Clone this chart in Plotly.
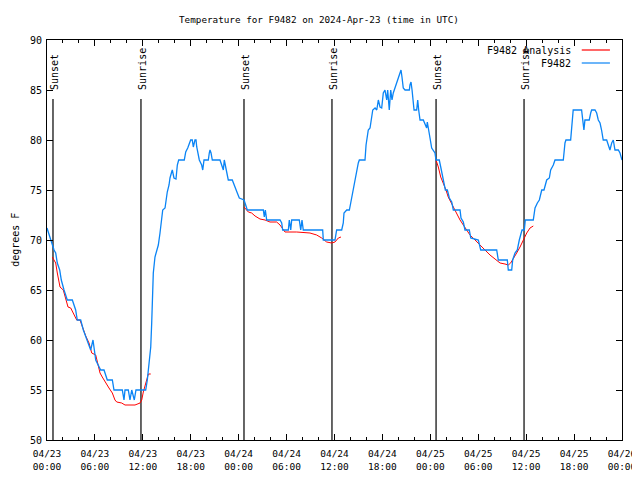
import pandas as pd
import plotly.graph_objects as go

# ---------------- data ----------------
START = pd.Timestamp("2024-04-23 00:00")

# observed temperature (hours since 2024-04-23 00:00 UTC, deg F)
obs_hours = [0.0, 0.46, 0.88, 1.09, 1.29, 1.59, 1.79, 2.13, 2.54, 3.17, 3.59, 3.79, 4.22, 4.55,
             5.05, 5.47, 5.76, 5.89, 6.10, 6.72, 7.14, 7.55, 8.18, 8.39, 9.43, 9.64, 9.77, 10.18,
             10.39, 10.61, 10.93, 11.14, 12.36, 12.56, 12.77, 12.99, 13.11, 13.19, 13.31, 13.52,
             13.74, 13.94, 14.15, 14.27, 14.36, 14.49, 14.78, 14.90, 15.06, 15.28, 15.40, 15.61,
             15.69, 15.90, 16.15, 16.32, 16.49, 17.19, 17.37, 17.62, 17.82, 17.99, 18.19, 18.32,
             18.53, 18.66, 18.75, 18.87, 19.07, 19.37, 19.50, 19.66, 20.20, 20.32, 20.41, 20.54,
             20.70, 21.66, 21.88, 22.08, 22.20, 22.38, 22.58, 22.70, 23.20, 23.42, 23.63, 23.83,
             24.08, 24.67, 24.88, 25.08, 27.09, 27.21, 27.34, 27.51, 29.18, 29.39, 29.51, 30.22,
             30.34, 30.52, 30.64, 31.59, 31.77, 31.93, 32.09, 34.52, 34.60, 36.06, 36.27, 36.90,
             37.10, 37.19, 37.53, 37.86, 38.03, 38.28, 38.44, 38.61, 38.78, 38.98, 39.11, 39.82,
             39.95, 40.11, 40.23, 40.45, 40.61, 40.79, 41.08, 41.29, 41.49, 41.70, 41.91, 42.11,
             42.32, 42.54, 42.66, 42.86, 43.04, 43.20, 43.36, 43.58, 43.79, 43.99, 44.20, 44.33,
             44.45, 44.61, 44.83, 45.37, 45.45, 45.58, 45.71, 45.79, 45.96, 46.29, 46.42, 46.54,
             46.71, 47.12, 47.33, 47.54, 47.62, 47.75, 47.96, 48.17, 48.37, 48.58, 48.71, 49.12,
             49.30, 49.55, 49.72, 49.88, 50.13, 50.38, 50.68, 50.88, 51.72, 51.84, 52.13, 52.34,
             52.88, 53.06, 54.01, 54.31, 56.31, 56.51, 57.64, 57.76, 58.19, 58.31, 58.60, 58.89,
             59.14, 59.32, 59.48, 59.77, 59.89, 60.89, 61.11, 61.40, 61.65, 61.95, 62.23, 62.57,
             62.90, 63.07, 63.40, 63.61, 64.65, 64.86, 64.98, 65.57, 65.69, 65.82, 65.89, 66.94,
             67.14, 67.23, 67.36, 67.90, 68.08, 68.20, 68.62, 68.83, 69.03, 69.25, 69.44, 69.65,
             70.08, 70.28, 70.49, 70.71, 70.91, 71.12, 71.54, 71.75, 71.88, 72.0]
obs_temps = [71.2, 70.0, 69.0, 68.7, 67.7, 67.0, 66.0, 65.0, 64.0, 64.0, 63.0, 62.0, 62.0, 61.0,
             60.0, 59.0, 60.0, 59.0, 58.0, 57.0, 57.0, 56.0, 56.0, 55.0, 55.0, 54.0, 55.0, 55.0,
             54.0, 55.0, 54.0, 55.0, 55.0, 56.0, 57.5, 59.3, 61.7, 64.3, 66.7, 68.3,
             69.0, 69.5, 70.7, 71.7, 72.5, 73.0, 73.2, 74.2, 74.8, 75.5, 76.2, 76.8,
             77.0, 76.2, 76.1, 77.5, 78.0, 78.0, 78.8, 79.2, 79.7, 80.0, 80.0, 79.3,
             80.0, 80.0, 79.3, 78.7, 78.0, 77.5, 77.0, 78.0, 78.0, 78.7, 79.0, 78.7,
             78.0, 78.0, 77.5, 77.0, 78.0, 77.3, 76.7, 76.0, 76.0, 75.5, 75.0, 74.7,
             74.2, 74.0, 73.5, 73.0, 73.0, 72.3, 73.0, 72.0, 72.0, 71.7, 71.0, 71.0,
             72.0, 71.0, 72.0, 72.0, 71.0, 72.0, 71.0, 71.0, 70.0, 70.0, 71.0, 71.0,
             71.7, 72.7, 73.0, 73.0, 73.7, 74.8, 75.7, 76.3, 77.0, 77.7, 78.0, 78.0,
             79.5, 80.3, 81.0, 81.2, 82.2, 83.0, 83.2, 83.0, 84.0, 83.3, 83.2, 84.7,
             85.0, 84.0, 85.0, 83.0, 85.0, 84.0, 84.7, 85.3, 85.8, 86.2, 86.7, 87.0,
             86.3, 85.2, 85.0, 85.0, 85.5, 85.8, 85.0, 84.0, 83.0, 83.0, 84.0, 83.0,
             82.0, 82.0, 81.5, 81.2, 81.8, 81.0, 80.2, 79.2, 79.0, 78.7, 78.0, 78.0,
             77.3, 76.3, 76.0, 75.0, 75.0, 74.2, 73.8, 73.0, 73.0, 72.2, 71.8, 71.0,
             71.0, 70.2, 70.0, 69.0, 69.0, 68.0, 68.0, 67.0, 67.0, 68.0, 68.7, 69.0,
             70.0, 70.5, 71.0, 71.0, 72.0, 72.0, 73.2, 73.7, 74.0, 75.0, 75.0, 76.0,
             76.2, 77.0, 77.5, 78.0, 78.0, 79.7, 80.0, 80.0, 81.0, 82.0, 83.0, 83.0,
             81.7, 81.0, 82.0, 82.0, 82.7, 83.0, 83.0, 82.7, 82.0, 81.7, 81.0, 80.0,
             80.0, 79.5, 79.0, 79.7, 80.0, 79.0, 79.0, 78.7, 78.3, 78.0]

# analysis curves (three night segments)
ana1_hours = [0.66, 1.09, 1.29, 1.50, 1.63, 2.04, 2.34, 2.63, 2.97, 3.38, 3.72, 4.13, 4.42, 4.85,
              5.26, 5.60, 6.10, 6.30, 6.64, 6.92, 7.35, 7.76, 8.18, 8.51, 8.73, 9.35, 9.77, 11.02,
              11.65, 11.86, 12.06, 12.27, 12.48, 12.69, 12.99]
ana1_temps = [68.3, 67.7, 66.7, 66.0, 65.3, 65.0, 64.0, 63.3, 63.2, 62.5, 62.0, 62.0, 61.3, 60.4,
              59.7, 58.7, 58.5, 57.7, 56.7, 56.3, 55.7, 55.2, 54.7, 54.0, 53.8, 53.7, 53.5, 53.5,
              53.7, 54.0, 54.8, 55.3, 56.0, 56.6, 56.6]
ana2_hours = [24.67, 25.21, 25.63, 26.05, 26.67, 27.30, 27.92, 28.76, 29.18, 29.59, 29.80, 31.27,
              32.93, 33.77, 34.40, 35.02, 35.65, 36.06, 36.48, 36.81]
ana2_temps = [73.3, 72.8, 72.7, 72.4, 72.1, 72.0, 71.8, 71.8, 71.5, 71.0, 70.8, 70.8,
              70.7, 70.5, 70.2, 69.8, 69.7, 69.8, 70.2, 70.3]
ana3_hours = [48.71, 49.00, 49.30, 49.62, 49.96, 50.24, 50.55, 50.88, 51.30, 51.72, 52.13, 52.55,
              52.97, 53.60, 54.22, 54.85, 55.47, 56.10, 56.73, 57.35, 57.76, 58.06, 58.39, 58.81,
              59.23, 59.65, 60.07, 60.48, 60.89]
ana3_temps = [78.0, 77.3, 76.3, 75.7, 75.0, 74.3, 73.8, 73.3, 72.7, 72.0, 71.5, 71.0,
              70.5, 70.0, 69.5, 69.0, 68.5, 68.1, 67.7, 67.6, 67.5, 67.7, 68.2, 68.7,
              69.3, 70.0, 70.7, 71.2, 71.4]

sun_times = ["2024-04-23 00:45", "2024-04-23 11:46", "2024-04-24 00:40",
             "2024-04-24 11:41", "2024-04-25 00:43", "2024-04-25 11:44"]
sun_labels = ["Sunset", "Sunrise", "Sunset", "Sunrise", "Sunset", "Sunrise"]

title_text = "Temperature for F9482 on 2024-Apr-23 (time in UTC)"
series_names = ["F9482 Analysis", "F9482"]
y_title = "degrees F"
Y_MIN, Y_MAX = 50, 90


def to_time(hours):
    return START + pd.to_timedelta(hours, unit="h")


# ---------------- figure ----------------
FONT = "DejaVu Sans Mono, Liberation Mono, monospace"
RED = "#ff0000"
BLUE = "#0a84f5"

fig = go.Figure()

ana_x, ana_y = [], []
for h, t in [(ana1_hours, ana1_temps), (ana2_hours, ana2_temps), (ana3_hours, ana3_temps)]:
    ana_x += list(to_time(h)) + [None]
    ana_y += list(t) + [None]

fig.add_trace(go.Scatter(x=ana_x, y=ana_y, mode="lines", name=series_names[0],
                         line=dict(color=RED, width=1), connectgaps=False))
fig.add_trace(go.Scatter(x=to_time(obs_hours), y=obs_temps, mode="lines", name=series_names[1],
                         line=dict(color=BLUE, width=1.3)))

# sunrise / sunset markers
for t, lab in zip(sun_times, sun_labels):
    fig.add_shape(type="line", xref="x", yref="y", x0=t, x1=t, y0=Y_MIN, y1=84.1,
                  line=dict(color="black", width=1.2), layer="below")
    fig.add_annotation(x=t, y=84.8, xref="x", yref="y", text=lab, textangle=-90,
                       showarrow=False, xanchor="center", yanchor="bottom", xshift=1,
                       font=dict(family=FONT, size=10, color="black"))

# legend drawn gnuplot-style (text left of the sample line)
leg_rows = [0.975, 0.9425]
for name, color, yp in zip(series_names, [RED, BLUE], leg_rows):
    fig.add_annotation(x=0.915, y=yp, xref="paper", yref="paper", text=name, showarrow=False,
                       xanchor="right", yanchor="middle",
                       font=dict(family=FONT, size=10, color="black"))
    fig.add_shape(type="line", xref="paper", yref="paper", x0=0.930, x1=0.979, y0=yp, y1=yp,
                  line=dict(color=color, width=1.2))

# y-axis title
fig.add_annotation(x=-0.056, y=0.5, xref="paper", yref="paper", text=y_title, textangle=-90,
                   showarrow=False, xanchor="center", yanchor="middle",
                   font=dict(family=FONT, size=10, color="black"))

# page body has an 8px margin; the figure is sized so the plot lands at 47..622 x 40..440
fig.update_layout(
    width=632, height=472,
    margin=dict(l=39, r=18, t=32, b=40, autoexpand=False),
    paper_bgcolor="white", plot_bgcolor="white",
    showlegend=False,
    font=dict(family=FONT, size=10, color="black"),
    title=dict(text=title_text, x=0.492, xanchor="center", xref="container", y=0.975,
               yanchor="middle", font=dict(family=FONT, size=9.3, color="black"),
               automargin=False),
)

fig.update_xaxes(
    range=[START, START + pd.Timedelta(hours=72)],
    type="date",
    tickformat="%m/%d<br>%H:%M",
    dtick=6 * 3600 * 1000,
    tick0=START,
    ticks="inside", ticklen=6, tickcolor="black", tickwidth=1,
    minor=dict(dtick=2 * 3600 * 1000, ticks="inside", ticklen=3, tickcolor="black"),
    showline=True, linecolor="black", linewidth=1, mirror="ticks",
    showgrid=False, zeroline=False, automargin=False,
    ticklabelstandoff=5,
    tickfont=dict(family=FONT, size=9.5),
)
fig.update_yaxes(
    range=[Y_MIN, Y_MAX],
    dtick=5,
    ticks="inside", ticklen=6, tickcolor="black", tickwidth=1,
    showline=True, linecolor="black", linewidth=1, mirror="ticks",
    showgrid=False, zeroline=False, automargin=False,
    ticklabelstandoff=2,
    tickfont=dict(family=FONT, size=10),
)

fig.write_html("out.html")
